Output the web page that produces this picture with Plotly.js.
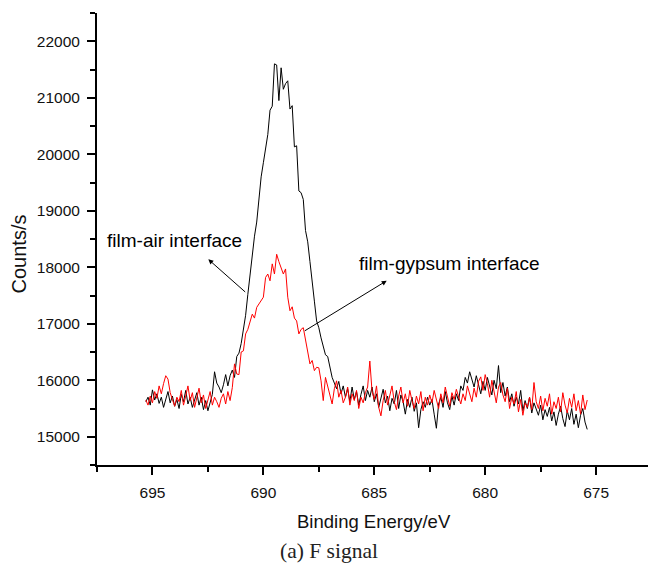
<!DOCTYPE html>
<html>
<head>
<meta charset="utf-8">
<script src="https://cdn.plot.ly/plotly-3.0.1.min.js"></script>
<style>html,body{margin:0;padding:0;background:#fff;overflow:hidden;}</style>
</head>
<body>
<div id="chart" style="width:648px;height:564px;"></div>
<script>
// Binding energy grid (eV): start and step of the scan
const energyStart = 695.3;
const energyStep = -0.1;

// film-air interface (black)
const filmAir = [
15620,15700,15560,15830,15650,15760,15590,15700,15520,15680,
15800,15600,15720,15540,15660,15500,15750,15620,15820,15580,
15700,15520,15660,15780,15560,15700,15480,15640,15460,15600,
15750,16150,15950,15880,15780,15920,16100,15900,16080,16180,
16050,16420,16480,16650,16880,17150,17520,17880,18250,18550,
18800,19250,19600,19850,20100,20350,20780,20850,21600,21580,
20950,21530,21150,21250,21300,20800,20860,20130,20150,19350,
19320,19200,18650,18450,18100,17800,17400,17050,16930,16750,
16600,16450,16420,16200,16050,15950,15850,15980,15760,15900,
15700,15850,15620,15880,15660,15800,15560,15750,15900,15640,
15820,15700,15880,15620,15760,15520,15700,15840,15600,15720,
15460,15680,15580,15820,15500,15740,15620,15400,15660,15520,
15700,15450,15600,15160,15480,15620,15520,15700,15560,15660,
15400,15150,15580,15700,15520,15800,15600,15480,15720,15560,
15760,15640,15900,15820,16050,15950,16150,16000,15880,16080,
15920,15760,15980,15820,16050,15900,15740,16000,15850,16260,
15780,15960,15720,15880,15620,15760,15540,15700,15580,15820,
15460,15640,15500,15700,15420,15600,15480,15380,15560,15300,
15480,15360,15520,15280,15440,15200,15400,15540,15320,15180,
15460,15300,15500,15220,15400,15160,15380,15500,15260,15130
];

// film-gypsum interface (red)
const filmGypsum = [
15650,15560,15720,15600,15800,15680,15900,15760,15940,16080,
16020,15780,15660,15540,15700,15620,15820,15560,15720,15900,
15640,15780,15520,15700,15860,15600,15740,15500,15680,15800,
15560,15700,15620,15520,15680,15760,15580,15800,15640,15870,
16290,16110,16100,16500,16520,16820,16900,17050,17170,17100,
17290,17350,17400,17470,17820,17880,17760,18060,17880,18230,
18100,18000,17880,17970,17470,17230,17300,17100,17050,16820,
16900,16930,16700,16520,16290,16350,16170,16230,16220,15990,
15640,16050,15900,15760,15580,15850,15990,15700,15820,15600,
15700,15880,15560,15760,15640,15820,15500,15700,15600,15780,
15880,16340,15800,15660,15900,15520,15370,15640,15820,15560,
15760,15900,15620,15480,15720,15880,15600,15760,15540,15820,
15640,15500,15720,15580,15800,15460,15700,15560,15740,15600,
15820,15660,15500,15760,15600,15880,15720,15540,15780,15660,
15840,15700,15580,15760,15640,15900,15760,15620,15860,15700,
15980,16060,15820,16100,15940,15700,16000,15820,15600,15880,
15960,15740,15620,15860,15500,15700,15580,15800,15440,15660,
15380,15600,15520,15700,15480,15960,15620,15500,15720,15460,
15680,15540,15760,15400,15620,15500,15700,15440,15780,15560,
15420,15680,15520,15760,15460,15640,15400,15740,15480,15650
];

const xTickVals = [695, 690, 685, 680, 675];
const xTickText = ['695', '690', '685', '680', '675'];
const yTickVals = [15000, 16000, 17000, 18000, 19000, 20000, 21000, 22000];
const yTickText = ['15000', '16000', '17000', '18000', '19000', '20000', '21000', '22000'];

const energy = filmAir.map((_, i) => +(energyStart + energyStep * i).toFixed(2));

const font = 'Liberation Sans, Arial, sans-serif';

const traces = [
  {x: energy, y: filmAir, type: 'scatter', mode: 'lines', name: 'film-air interface',
   line: {color: '#000000', width: 1}},
  {x: energy, y: filmGypsum, type: 'scatter', mode: 'lines', name: 'film-gypsum interface',
   line: {color: '#ff0000', width: 1}}
];

const axisCommon = {
  showline: true, linecolor: '#000', linewidth: 2,
  ticks: 'outside', ticklen: 8, tickwidth: 2, tickcolor: '#000',
  showgrid: false, zeroline: false, mirror: false,
  tickfont: {family: font, size: 15.5, color: '#111'}
};

const layout = {
  width: 648, height: 564,
  margin: {l: 97, r: 0, t: 13, b: 99},
  paper_bgcolor: '#fff', plot_bgcolor: '#fff',
  showlegend: false,
  xaxis: Object.assign({}, axisCommon, {
    range: [697.5, 672.66], autorange: false,
    tickmode: 'array', tickvals: xTickVals, ticktext: xTickText,
    minor: {dtick: 2.5, tick0: 0, ticks: 'outside', ticklen: 5, tickwidth: 2, tickcolor: '#000', showgrid: false},
    ticklabelstandoff: 4
  }),
  yaxis: Object.assign({}, axisCommon, {
    range: [14500, 22500], autorange: false,
    tickmode: 'array', tickvals: yTickVals, ticktext: yTickText,
    minor: {dtick: 500, tick0: 0, ticks: 'outside', ticklen: 5, tickwidth: 2, tickcolor: '#000', showgrid: false},
    ticklabelstandoff: 4
  }),
  annotations: [
    {text: 'Binding Energy/eV', xref: 'paper', yref: 'paper', x: 0.502, y: -0.124,
     xanchor: 'center', yanchor: 'middle', showarrow: false,
     font: {family: font, size: 18.5, color: '#111'}},
    {text: 'Counts/s', xref: 'paper', yref: 'paper', x: -0.1416, y: 0.468, textangle: -90,
     xanchor: 'center', yanchor: 'middle', showarrow: false,
     font: {family: font, size: 20, color: '#111'}},
    {text: '(a) F signal', xref: 'paper', yref: 'paper', x: 0.4216, y: -0.19,
     xanchor: 'center', yanchor: 'middle', showarrow: false,
     font: {family: 'Liberation Serif, Times New Roman, serif', size: 21.5, color: '#222'}},
    {text: 'film-air interface', xref: 'paper', yref: 'paper', x: 0.0145, y: 0.4956,
     xanchor: 'left', yanchor: 'middle', showarrow: false,
     font: {family: font, size: 19, color: '#000'}},
    {text: 'film-gypsum interface', xref: 'paper', yref: 'paper', x: 0.4719, y: 0.4447,
     xanchor: 'left', yanchor: 'middle', showarrow: false,
     font: {family: font, size: 19, color: '#000'}},
    {text: '', xref: 'paper', yref: 'paper', x: 0.202, y: 0.4551,
     showarrow: true, ax: 38.4, ay: 34, arrowhead: 2, arrowsize: 1, arrowwidth: 1, arrowcolor: '#000', standoff: 0, startstandoff: 0},
    {text: '', xref: 'paper', yref: 'paper', x: 0.5258, y: 0.4077,
     showarrow: true, ax: -83.4, ay: 51, arrowhead: 2, arrowsize: 1, arrowwidth: 1, arrowcolor: '#000', standoff: 0, startstandoff: 0}
  ]
};

Plotly.newPlot('chart', traces, layout, {staticPlot: true, displayModeBar: false});
</script>
</body>
</html>
